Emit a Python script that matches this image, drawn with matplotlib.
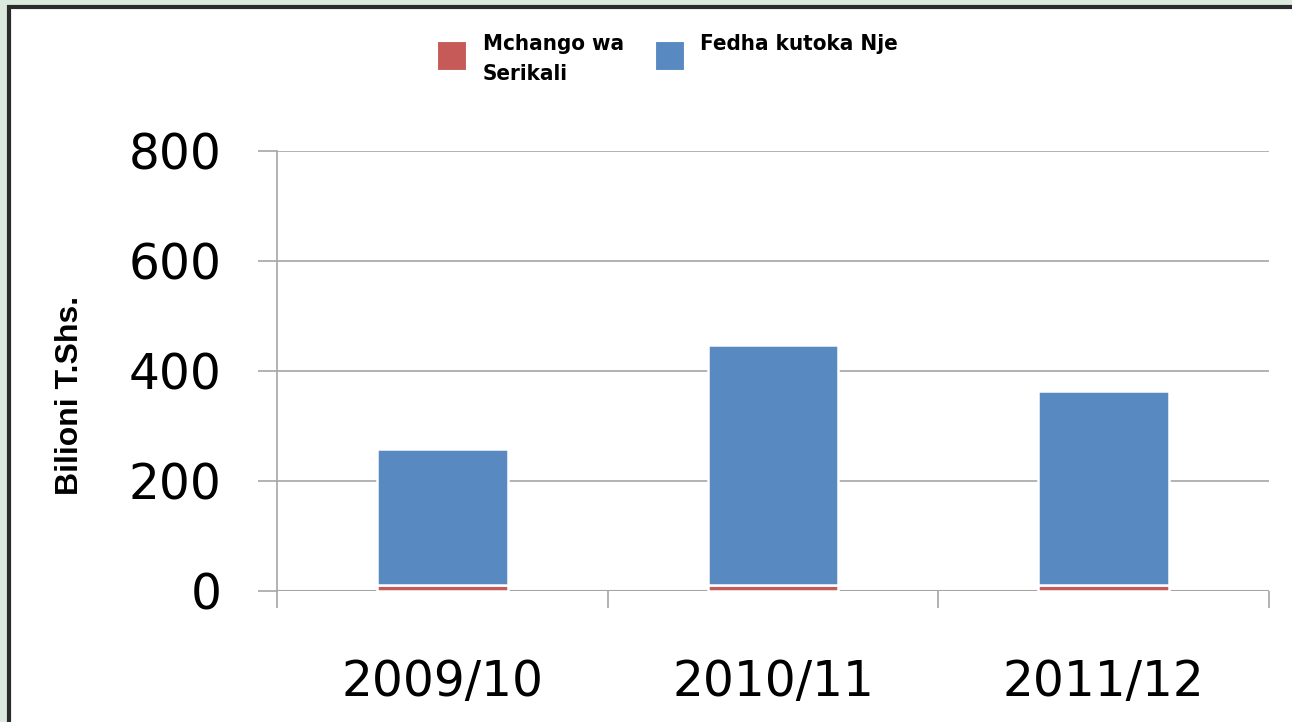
import matplotlib
matplotlib.use("Agg")
import matplotlib.pyplot as plt
from matplotlib.patches import Rectangle
import numpy as np

# data (Bilioni T.Shs.)
years = ["2009/10", "2010/11", "2011/12"]
mchango_serikali = [11, 11, 11]
fedha_nje = [247, 436, 353]
yticks = [0, 200, 400, 600, 800]
series_names = ["Mchango wa\nSerikali", "Fedha kutoka Nje"]

red = "#c65a58"
blue = "#588ac1"

W, H = 1292, 722
fig = plt.figure(figsize=(W / 100, H / 100), dpi=100)
fig.patch.set_facecolor("#dbeadd")

# white panel with dark frame (bottom and right run off the picture)
panel = Rectangle((9 / W, -0.1), 1.2, 1.1 - 7 / H, transform=fig.transFigure,
                  facecolor="white", edgecolor="#2b2b2b", linewidth=3, zorder=-10)
fig.patches.append(panel)

ax = fig.add_axes([277 / W, 1 - 591 / H, (1269 - 277) / W, 440 / H])
ax.set_facecolor("none")

x = np.arange(len(years))
b1 = ax.bar(x, mchango_serikali, width=0.395, color=red, edgecolor="white",
            linewidth=1.8, zorder=3)
b2 = ax.bar(x, fedha_nje, width=0.395, bottom=mchango_serikali, color=blue,
            edgecolor="white", linewidth=1.8, zorder=3)

ax.set_xlim(-0.5, len(years) - 0.5)
ax.set_ylim(0, 800)
ax.set_yticks(yticks)
ax.yaxis.grid(True, color="#a6a6a6", linewidth=1.2)
ax.set_axisbelow(True)

for s in ["top", "right", "bottom"]:
    ax.spines[s].set_visible(False)
ax.spines["left"].set_color("#a6a6a6")
ax.spines["left"].set_linewidth(1.2)
ax.axhline(0, color="#a6a6a6", linewidth=1.5, zorder=2)

ax.tick_params(axis="y", length=14, width=1.2, color="#a6a6a6", pad=26,
               labelsize=35)
ax.set_xticks(x)
ax.set_xticklabels(years)
ax.set_xticks(np.arange(-0.5, len(years)), minor=True)
ax.tick_params(axis="x", which="major", length=0, pad=48, labelsize=35)
ax.tick_params(axis="x", which="minor", length=12, width=1.2, color="#a6a6a6")

ax.set_ylabel("Bilioni T.Shs.", fontsize=23, fontweight="bold",
              family="Liberation Sans")
ax.yaxis.set_label_coords(-0.194, 0.445)

# legend: squares with labels set beside their top edge
legend_font = dict(fontfamily="DejaVu Sans", fontstretch="condensed",
                   fontweight="bold", fontsize=16, linespacing=1.6)
for bars, name, sx, tx in [(b1, series_names[0], 437, 483),
                           (b2, series_names[1], 655, 700)]:
    fig.patches.append(Rectangle((sx / W, 1 - 70 / H), 29 / W, 29 / H,
                                 transform=fig.transFigure,
                                 facecolor=bars.patches[0].get_facecolor(),
                                 edgecolor="white", linewidth=0.8))
    fig.text(tx / W, 1 - 34 / H, name, ha="left", va="top", **legend_font)

fig.savefig("out.png", dpi=100, facecolor=fig.get_facecolor())
